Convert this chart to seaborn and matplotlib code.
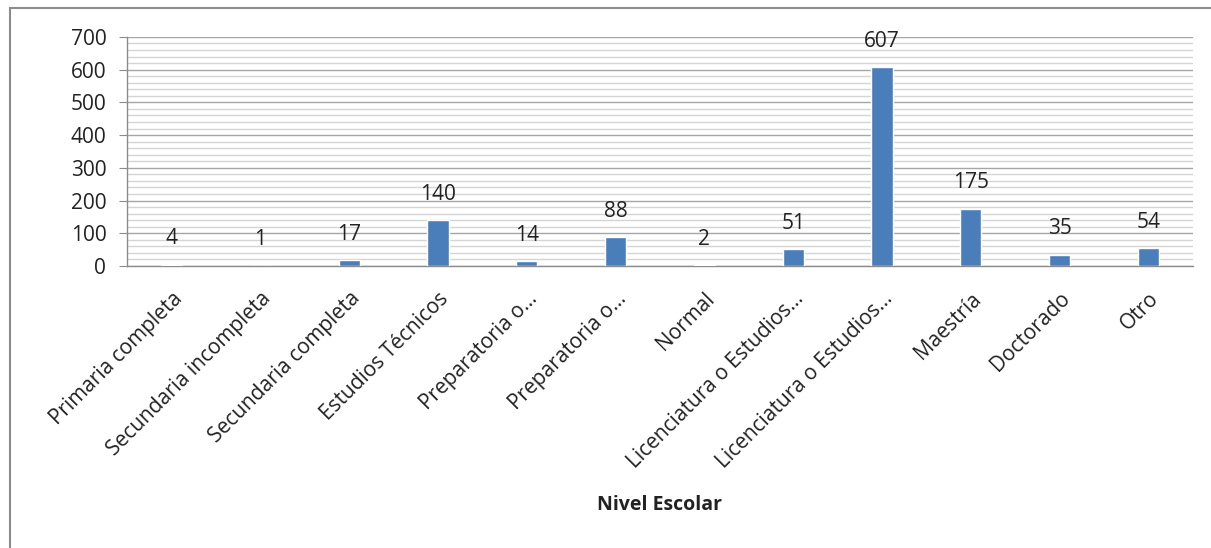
import matplotlib
matplotlib.use("Agg")
import matplotlib.pyplot as plt
import seaborn as sns
import pandas as pd
from matplotlib.ticker import MultipleLocator
from matplotlib.patches import Rectangle

categorias = [
    "Primaria completa", "Secundaria incompleta", "Secundaria completa",
    "Estudios Técnicos", "Preparatoria o...", "Preparatoria o...", "Normal",
    "Licenciatura o Estudios...", "Licenciatura o Estudios...", "Maestría",
    "Doctorado", "Otro",
]
valores = [4, 1, 17, 140, 14, 88, 2, 51, 607, 175, 35, 54]
yticks = [0, 100, 200, 300, 400, 500, 600, 700]

sns.set_style("white")
plt.rcParams["font.family"] = ["Open Sans", "DejaVu Sans"]

df = pd.DataFrame({"pos": list(range(len(valores))), "valor": valores})

fig = plt.figure(figsize=(12.11, 5.48), dpi=100)
ax = fig.add_axes([0.105, 0.5146, 0.880, 0.418])

sns.barplot(data=df, x="pos", y="valor", color="#4a7ebb", width=0.24,
            saturation=1, ax=ax, zorder=3)

ax.set_ylim(0, 700)
ax.set_yticks(yticks)
ax.yaxis.set_minor_locator(MultipleLocator(20))
ax.grid(axis="y", which="major", color="#a6a6a6", linewidth=1.0, zorder=0)
ax.grid(axis="y", which="minor", color="#d4d4d4", linewidth=1.0, zorder=0)
ax.set_axisbelow(True)
ax.set_xlim(-0.5, len(valores) - 0.5)

for s in ["top", "right"]:
    ax.spines[s].set_visible(False)
for s in ["left", "bottom"]:
    ax.spines[s].set_color("#8c8c8c")
    ax.spines[s].set_linewidth(1.0)

ax.tick_params(axis="y", which="major", length=6, color="#8c8c8c",
               labelsize=15, labelcolor="#222222", pad=9, left=True)
ax.tick_params(axis="y", which="minor", length=0)
ax.set_xticks(range(len(categorias)))
ax.set_xticklabels(categorias, rotation=45, ha="right",
                   rotation_mode="anchor", fontsize=15, color="#222222")
ax.tick_params(axis="x", length=0, pad=16)

for i, v in enumerate(valores):
    ax.annotate(str(v), xy=(i, v), xytext=(0, 11), textcoords="offset points",
                ha="center", va="bottom", fontsize=15, color="#222222")

ax.set_xlabel("Nivel Escolar", fontsize=14, fontweight="bold",
              color="#222222", labelpad=16)
ax.set_ylabel("")

# outer chart frame
fig.patches.append(Rectangle((0.008, -0.05), 1.1, 1.036,
                             transform=fig.transFigure, fill=False,
                             edgecolor="#8c8c8c", linewidth=1.5))

fig.savefig("out.png", dpi=100)
